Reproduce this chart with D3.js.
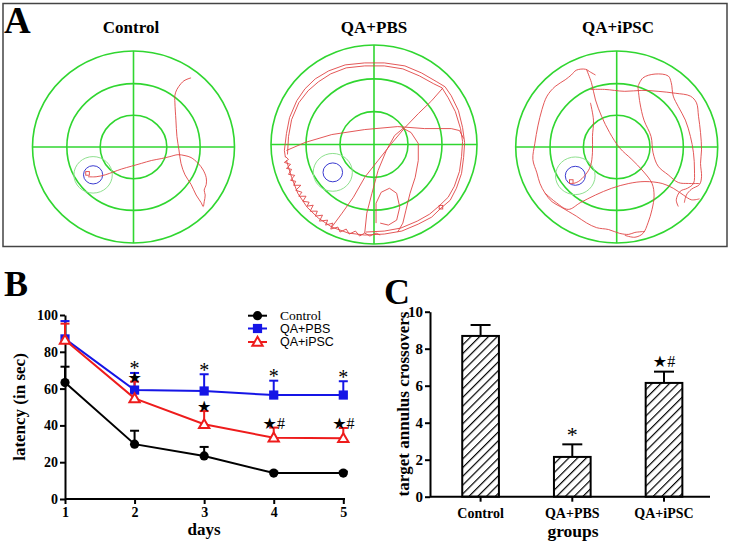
<!DOCTYPE html>
<html><head><meta charset="utf-8">
<script src="https://cdn.jsdelivr.net/npm/d3@7"></script>
<style>body{margin:0;background:#fff} svg{display:block}</style>
</head><body>
<svg id="fig" width="731" height="543"></svg>
<script>
// ---------------- DATA ----------------
// Panel A: swim paths (pool coordinates, radius = 100, x right, y down)
const poolTitles = ["Control", "QA+PBS", "QA+iPSC"];
const ringFractions = [1, 0.66, 0.33];
const platformCenters = [[-40, 29], [-40, 28], [-41, 30]];
const platformZoneR = [19, 19, 19.6];
const platformR = [9.5, 9.5, 9.9];
const pathEndBoxes = [[-45.5, 27.5], [65, 63], [-45, 36]];

const controlTrace = [
  [[57,-72],[54,-71],[50,-69],[47,-66],[43,-60],[41,-54],[41,-46],[42,-28],[43,-11],[45,3],[47,17],[51,29],[57,39],[62,50],[67,58],[69,62],[70,57],[71,50],[70,45],[72,39],[72,32],[69,24],[64,17],[57,11],[51,9],[44,8],[36,10],[28,12],[18,14],[8,17],[-2,20],[-12,23],[-20,26],[-28,29],[-37,31],[-45,31]]
];
const pbsTrace = [
  [[-86,13],[-87,6],[-85,-11],[-82,-27],[-75,-44],[-67,-56],[-57,-66],[-44,-74],[-28,-80],[-9,-82],[10,-82],[30,-79],[46,-72],[61,-63],[69,-58],[75,-49],[82,-34],[86,-17],[88,-2],[87,13],[85,29],[80,44],[74,56],[65,64],[56,73],[43,80],[27,87],[10,90],[-9,91],[-25,89],[-41,83],[-54,74],[-65,63],[-74,49],[-80,33],[-85,16]],
  [[-84,10],[-83,-8],[-80,-25],[-73,-42],[-64,-54],[-54,-63],[-42,-71],[-27,-77],[-9,-79],[10,-79],[28,-76],[44,-69],[58,-61],[66,-57],[72,-47],[79,-33],[84,-16],[86,-3],[85,12],[83,27],[78,42],[72,53],[63,62],[54,70],[42,77],[26,84],[10,87],[-8,88]],
  [[-86,12],[-83,15],[-87,18],[-81,20],[-85,24],[-80,25],[-83,30],[-77,31],[-81,36],[-76,37],[-78,41],[-71,41],[-76,46],[-70,48],[-73,52],[-66,52],[-69,57],[-63,58],[-65,62],[-59,61],[-62,67],[-55,67],[-57,72],[-50,71],[-53,77],[-45,76],[-47,81],[-40,79],[-42,85],[-35,83],[-33,88],[-27,85],[-24,90],[-18,87],[-14,92],[-9,89],[-4,92],[2,89],[6,91]],
  [[-85,6],[-67,-2],[-41,-10],[-9,-15],[23,-18],[49,-16],[75,-16],[83,-14],[87,-6]],
  [[67,-57],[56,-44],[43,-31],[30,-17],[17,-1],[4,16],[-9,33],[-20,53],[-31,69],[-41,83]],
  [[27,-17],[36,-12],[43,-1],[43,16],[40,33],[35,49],[31,66],[28,79],[23,88]],
  [[-9,89],[-7,69],[-2,49],[4,26],[12,6],[20,-9],[28,-16]],
  [[2,79],[2,59],[7,48],[15,44],[22,49],[25,63],[22,76],[14,81],[6,79]]
];
const ipscTrace = [
  [[-21,-75],[-26,-78],[-31,-81],[-40,-80],[-45,-75],[-51,-70],[-61,-63],[-69,-53],[-74,-39],[-78,-22],[-81,-4],[-83,13],[-79,27],[-76,38],[-71,48],[-64,57],[-56,62],[-48,67],[-40,72],[-30,79],[-20,84],[-8,86],[3,90],[12,91],[18,89],[28,88]],
  [[-30,-81],[-25,-67],[-21,-49],[-15,-32],[-7,-15],[3,1],[15,13],[26,25],[35,38],[37,51],[35,65],[31,79],[26,90],[18,94],[8,92]],
  [[-26,-60],[-12,-60],[8,-58],[25,-59],[41,-58],[58,-56],[73,-53],[79,-46],[81,-32],[83,-15],[84,3],[83,17],[84,31],[82,39],[74,44],[69,50],[67,58]],
  [[21,-63],[26,-72],[38,-76],[51,-74],[54,-67],[56,-53],[61,-42],[68,-28],[73,-11],[76,6],[77,24],[76,38],[70,43],[63,46],[59,55],[61,62]],
  [[21,-63],[23,-46],[27,-28],[34,-11],[36,6],[41,20],[51,29],[61,37],[71,38],[82,38]],
  [[-71,48],[-61,57],[-48,65],[-36,58],[-21,50],[-5,43],[12,38],[28,36],[45,38],[56,43],[66,50],[74,55],[82,54]],
  [[-26,-46],[-23,-28],[-24,-11],[-24,6],[-26,20],[-31,29],[-38,36],[-43,38]]
];
const poolTraces = [controlTrace, pbsTrace, ipscTrace];

// Panel B: escape latency
const days = [1, 2, 3, 4, 5];
const controlLatency = [63.3, 29.8, 23.4, 14.1, 14.1];
const controlSem = [8.6, 7.3, 4.9, 0.8, 0.8];
const pbsLatency = [87.0, 59.2, 58.7, 56.5, 56.5];
const pbsSem = [9.7, 9.3, 9.1, 7.8, 7.5];
const ipscLatency = [86.4, 54.7, 40.6, 33.3, 33.0];
const ipscSem = [8.9, 9.1, 7.2, 5.5, 5.6];
const pbsSig = ["", "*", "*", "*", "*"];
const ipscSig = ["", "\u2605", "\u2605", "\u2605#", "\u2605#"];
const latencyTicks = [0, 20, 40, 60, 80, 100];

// Panel C: target annulus crossovers
const groups = ["Control", "QA+PBS", "QA+iPSC"];
const crossMean = [8.69, 2.15, 6.15];
const crossSem = [0.59, 0.68, 0.61];
const crossSig = ["", "*", "\u2605#"];
const crossTicks = [0, 2, 4, 6, 8, 10];

// ---------------- DRAW ----------------
const SERIF = "'Liberation Serif','Times New Roman',serif";
const SANS = "'Liberation Sans',Arial,sans-serif";
const STARF = "'DejaVu Sans',sans-serif";
const svg = d3.select("#fig");
svg.append("rect").attr("width", 731).attr("height", 543).attr("fill", "#fff");

// ===== Panel A =====
const gA = svg.append("g");
gA.append("rect").attr("x", 3).attr("y", 3.5).attr("width", 724).attr("height", 243)
  .attr("fill", "none").attr("stroke", "#444").attr("stroke-width", 1.5);
gA.append("text").attr("x", 4).attr("y", 33).text("A")
  .attr("font-family", SERIF).attr("font-weight", "bold").attr("font-size", 37);

const poolLayout = [
  {cx: 133.5, cy: 147, rx: 101, ry: 96, tx: 131},
  {cx: 374, cy: 144.5, rx: 103, ry: 99.5, tx: 374},
  {cx: 616.7, cy: 147, rx: 101, ry: 96, tx: 618}
];
const GREEN = "#30d630";
poolTitles.forEach((title, i) => {
  const L = poolLayout[i];
  const x = d3.scaleLinear().domain([-100, 100]).range([L.cx - L.rx, L.cx + L.rx]);
  const y = d3.scaleLinear().domain([-100, 100]).range([L.cy - L.ry, L.cy + L.ry]);
  const g = gA.append("g");
  g.append("text").attr("x", L.tx).attr("y", 33).attr("text-anchor", "middle")
    .attr("font-family", SERIF).attr("font-weight", "bold").attr("font-size", 17).text(title);
  g.selectAll("ellipse.ring").data(ringFractions).join("ellipse").attr("class", "ring")
    .attr("cx", x(0)).attr("cy", y(0))
    .attr("rx", f => x(100 * f) - x(0)).attr("ry", f => y(100 * f) - y(0))
    .attr("fill", "none").attr("stroke", GREEN).attr("stroke-width", 1.6);
  g.append("line").attr("x1", x(-100)).attr("x2", x(100)).attr("y1", y(0)).attr("y2", y(0))
    .attr("stroke", GREEN).attr("stroke-width", 1.6);
  g.append("line").attr("x1", x(0)).attr("x2", x(0)).attr("y1", y(-100)).attr("y2", y(100))
    .attr("stroke", GREEN).attr("stroke-width", 1.6);
  const pc = platformCenters[i];
  g.append("ellipse").attr("cx", x(pc[0])).attr("cy", y(pc[1]))
    .attr("rx", x(pc[0] + platformZoneR[i]) - x(pc[0])).attr("ry", y(pc[1] + platformZoneR[i]) - y(pc[1]))
    .attr("fill", "none").attr("stroke", "#8ee08e").attr("stroke-width", 1);
  g.append("ellipse").attr("cx", x(pc[0])).attr("cy", y(pc[1]))
    .attr("rx", x(pc[0] + platformR[i]) - x(pc[0])).attr("ry", y(pc[1] + platformR[i]) - y(pc[1]))
    .attr("fill", "none").attr("stroke", "#3b3bd0").attr("stroke-width", 1);
  const line = d3.line().x(d => x(d[0])).y(d => y(d[1]))
    .curve(i === 1 ? d3.curveLinear : d3.curveCatmullRom.alpha(0.5));
  g.selectAll("path.trace").data(poolTraces[i]).join("path").attr("class", "trace")
    .attr("d", line).attr("fill", "none").attr("stroke", "#e04545").attr("stroke-width", 0.9)
    .attr("stroke-linejoin", "round");
  const eb = pathEndBoxes[i];
  g.append("rect").attr("x", x(eb[0]) - 1.8).attr("y", y(eb[1]) - 1.8).attr("width", 3.6).attr("height", 3.6)
    .attr("fill", "none").attr("stroke", "#e04545").attr("stroke-width", 0.9);
});

// ===== Panel B =====
const gB = svg.append("g");
gB.append("text").attr("x", 4).attr("y", 296).text("B")
  .attr("font-family", SERIF).attr("font-weight", "bold").attr("font-size", 36);
const xB = d3.scaleLinear().domain([1, 5]).range([65, 343.3]);
const yB = d3.scaleLinear().domain([0, 100]).range([499, 315]);

function styleAxis(g, fs) {
  g.select(".domain").attr("stroke", "#000").attr("stroke-width", 2);
  g.selectAll(".tick line").attr("stroke", "#000").attr("stroke-width", 2);
  g.selectAll(".tick text").attr("font-family", SERIF).attr("font-weight", "bold")
    .attr("font-size", fs).attr("fill", "#000");
}
const axYB = gB.append("g").attr("transform", "translate(65,0)")
  .call(d3.axisLeft(yB).tickValues(latencyTicks).tickSize(5).tickSizeOuter(0).tickPadding(2));
styleAxis(axYB, 14);
const axXB = gB.append("g").attr("transform", "translate(0,499)")
  .call(d3.axisBottom(xB).tickValues(days).tickFormat(d3.format("d")).tickSize(5).tickSizeOuter(0).tickPadding(3));
styleAxis(axXB, 14);
axXB.select(".domain").attr("d", "M65,0H345");

gB.append("text").attr("x", 204).attr("y", 535).attr("text-anchor", "middle")
  .attr("font-family", SERIF).attr("font-weight", "bold").attr("font-size", 17).text("days");
gB.append("text").attr("transform", "translate(25,407) rotate(-90)").attr("text-anchor", "middle")
  .attr("font-family", SERIF).attr("font-weight", "bold").attr("font-size", 17).text("latency (in sec)");

const series = [
  {name: "Control", vals: controlLatency, sem: controlSem, color: "#000", marker: "circle", font: SERIF},
  {name: "QA+PBS", vals: pbsLatency, sem: pbsSem, color: "#1515e6", marker: "square", font: SANS},
  {name: "QA+iPSC", vals: ipscLatency, sem: ipscSem, color: "#ee1c1c", marker: "triangle", font: SANS}
];
function drawMarker(g, s, cx, cy) {
  if (s.marker === "circle") {
    g.append("circle").attr("cx", cx).attr("cy", cy).attr("r", 4.6).attr("fill", s.color);
  } else if (s.marker === "square") {
    g.append("rect").attr("x", cx - 4.6).attr("y", cy - 4.6).attr("width", 9.2).attr("height", 9.2).attr("fill", s.color);
  } else {
    g.append("path").attr("transform", `translate(${cx},${cy + 0.8})`)
      .attr("d", d3.symbol(d3.symbolTriangle).size(46)())
      .attr("fill", "#fff").attr("stroke", s.color).attr("stroke-width", 2);
  }
}
// error bars
series.forEach(s => {
  days.forEach((d, k) => {
    const cx = xB(d), top = yB(s.vals[k] + s.sem[k]);
    gB.append("line").attr("x1", cx).attr("x2", cx).attr("y1", yB(s.vals[k])).attr("y2", top)
      .attr("stroke", s.color).attr("stroke-width", 2);
    gB.append("line").attr("x1", cx - 4.5).attr("x2", cx + 4.5).attr("y1", top).attr("y2", top)
      .attr("stroke", s.color).attr("stroke-width", 2);
  });
});
// lines and markers
series.forEach(s => {
  const ln = d3.line().x((d, k) => xB(days[k])).y(d => yB(d));
  gB.append("path").attr("d", ln(s.vals)).attr("fill", "none").attr("stroke", s.color).attr("stroke-width", 2);
  days.forEach((d, k) => drawMarker(gB, s, xB(d), yB(s.vals[k])));
});
// legend
const legY = [315.7, 328.5, 342];
series.forEach((s, i) => {
  gB.append("line").attr("x1", 248).attr("x2", 267).attr("y1", legY[i]).attr("y2", legY[i])
    .attr("stroke", s.color).attr("stroke-width", 2);
  drawMarker(gB, s, 257.5, legY[i]);
  gB.append("text").attr("x", 280).attr("y", legY[i] + 4.3).attr("font-family", s.font)
    .attr("font-size", s.font === SERIF ? 13.5 : 12.5).attr("fill", "#000").text(s.name);
});
// significance marks
days.forEach((d, k) => {
  if (pbsSig[k]) {
    gB.append("text").attr("x", xB(d)).attr("y", yB(pbsLatency[k] + pbsSem[k]) + 2.5)
      .attr("text-anchor", "middle").attr("font-family", SERIF).attr("font-size", 20).text(pbsSig[k]);
  }
  if (ipscSig[k]) {
    const t = gB.append("text").attr("x", xB(d)).attr("y", yB(ipscLatency[k] + ipscSem[k]) + 1)
      .attr("text-anchor", "middle");
    t.append("tspan").attr("font-family", STARF).attr("font-size", 16).text(ipscSig[k][0]);
    if (ipscSig[k].length > 1)
      t.append("tspan").attr("font-family", SERIF).attr("font-size", 16).text(ipscSig[k].slice(1));
  }
});

// ===== Panel C =====
const gC = svg.append("g");
gC.append("text").attr("x", 384).attr("y", 304).text("C")
  .attr("font-family", SERIF).attr("font-weight", "bold").attr("font-size", 36);
const AXC = 430;
const xC = d3.scaleBand().domain(groups).range([425, 719.6]).paddingInner(0.6).paddingOuter(0.406);
const yC = d3.scaleLinear().domain([0, 10]).range([496.7, 311.7]);

const defs = svg.append("defs");
const pat = defs.append("pattern").attr("id", "hatch").attr("patternUnits", "userSpaceOnUse")
  .attr("width", 6.2).attr("height", 6.2).attr("patternTransform", "rotate(45)");
pat.append("rect").attr("width", 6.2).attr("height", 6.2).attr("fill", "#fff");
pat.append("line").attr("x1", 0).attr("y1", 0).attr("x2", 0).attr("y2", 6.2)
  .attr("stroke", "#000").attr("stroke-width", 2.4);

// error bars C
groups.forEach((gname, k) => {
  const cx = xC(gname) + xC.bandwidth() / 2, top = yC(crossMean[k] + crossSem[k]);
  gC.append("line").attr("x1", cx).attr("x2", cx).attr("y1", yC(crossMean[k])).attr("y2", top)
    .attr("stroke", "#000").attr("stroke-width", 2);
  gC.append("line").attr("x1", cx - 10).attr("x2", cx + 10).attr("y1", top).attr("y2", top)
    .attr("stroke", "#000").attr("stroke-width", 2);
});
gC.selectAll("rect.bar").data(groups).join("rect").attr("class", "bar")
  .attr("x", d => xC(d)).attr("width", xC.bandwidth())
  .attr("y", (d, k) => yC(crossMean[k])).attr("height", (d, k) => yC(0) - yC(crossMean[k]))
  .attr("fill", "url(#hatch)").attr("stroke", "#000").attr("stroke-width", 2);

const axYC = gC.append("g").attr("transform", `translate(${AXC},0)`)
  .call(d3.axisLeft(yC).tickValues(crossTicks).tickSize(5).tickSizeOuter(0).tickPadding(2));
styleAxis(axYC, 15);
gC.append("line").attr("x1", AXC).attr("x2", 710).attr("y1", yC(0)).attr("y2", yC(0))
  .attr("stroke", "#000").attr("stroke-width", 2);
groups.forEach(gname => {
  const cx = xC(gname) + xC.bandwidth() / 2;
  gC.append("line").attr("x1", cx).attr("x2", cx).attr("y1", yC(0)).attr("y2", yC(0) + 5)
    .attr("stroke", "#000").attr("stroke-width", 2);
  gC.append("text").attr("x", cx).attr("y", 518).attr("text-anchor", "middle")
    .attr("font-family", SERIF).attr("font-weight", "bold").attr("font-size", 14).text(gname);
});
gC.append("text").attr("x", 573).attr("y", 537).attr("text-anchor", "middle")
  .attr("font-family", SERIF).attr("font-weight", "bold").attr("font-size", 17.5).text("groups");
gC.append("text").attr("transform", "translate(409,404) rotate(-90)").attr("text-anchor", "middle")
  .attr("font-family", SERIF).attr("font-weight", "bold").attr("font-size", 17).text("target annulus crossovers");
groups.forEach((gname, k) => {
  if (!crossSig[k]) return;
  const cx = xC(gname) + xC.bandwidth() / 2, top = yC(crossMean[k] + crossSem[k]);
  if (crossSig[k] === "*") {
    gC.append("text").attr("x", cx).attr("y", top - 2.5).attr("text-anchor", "middle")
      .attr("font-family", SERIF).attr("font-size", 22).text("*");
  } else {
    const t = gC.append("text").attr("x", cx).attr("y", top - 4.5).attr("text-anchor", "middle");
    t.append("tspan").attr("font-family", STARF).attr("font-size", 16).text(crossSig[k][0]);
    t.append("tspan").attr("font-family", SERIF).attr("font-size", 16).text(crossSig[k].slice(1));
  }
});
</script>
</body></html>
